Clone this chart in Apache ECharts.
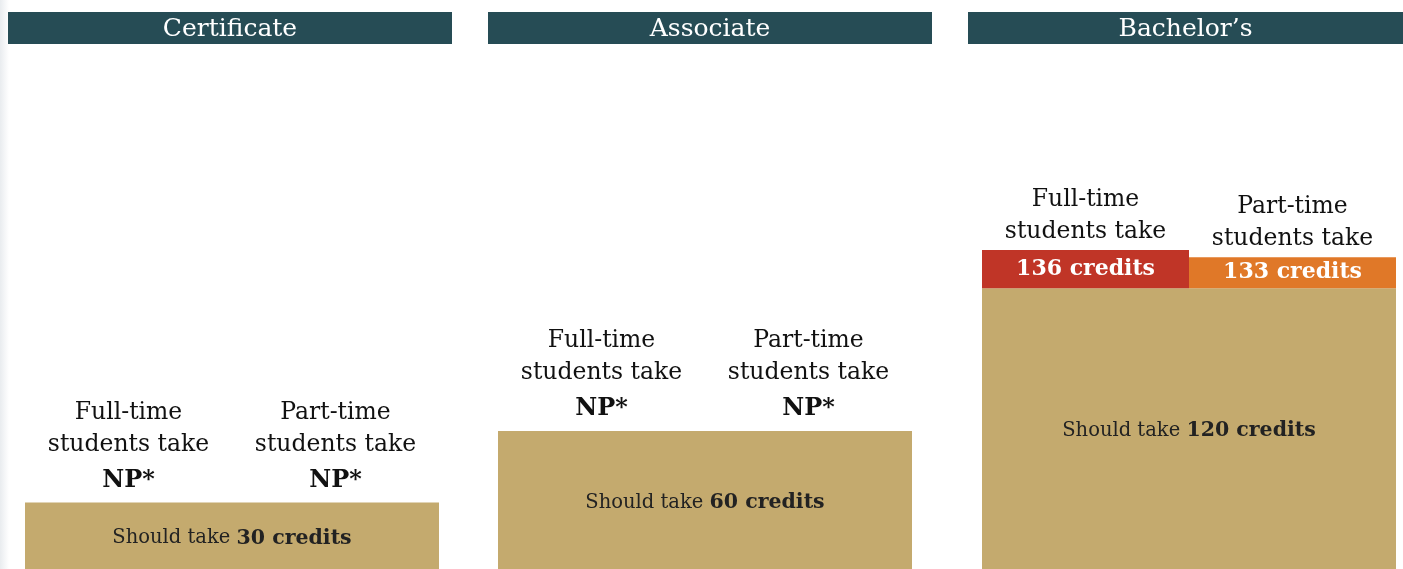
<!DOCTYPE html>
<html>
<head>
<meta charset="utf-8">
<script src="https://cdn.jsdelivr.net/npm/echarts@6/dist/echarts.min.js"></script>
<style>
  html, body { margin: 0; padding: 0; background: #fff; }
  #main { width: 1403px; height: 569px; }
</style>
</head>
<body>
<div id="main"></div>
<script>
// data
let degrees = ["Certificate", "Associate", "Bachelor\u2019s"];
let students = ["Full-time", "Part-time"];
let shouldTake = [30, 60, 120];          // credits needed
let fullTimeTake = [null, null, 136];    // null = NP (not provided)
let partTimeTake = [null, null, 133];

let serif = "DejaVu Serif";
let tan = "#c4aa6e";
let teal = "#264c55";
let overColors = ["#c03527", "#e07828"];

let gridLeft = [25, 498, 982];
let gridW = 414;
let headLeft = [8, 488, 968];
let headW = [444, 444, 435];

var myChart = echarts.init(document.getElementById('main'));

let grids = [], xAxes = [], yAxes = [], series = [], graphics = [];

// faint shadow strip on the left edge
graphics.push({
    type: 'rect', left: 0, top: 0, z: -1,
    shape: {width: 9, height: 569},
    style: {fill: new echarts.graphic.LinearGradient(0, 0, 1, 0, [
        {offset: 0, color: '#e9ecef'}, {offset: 1, color: '#ffffff'}])}
});

for (let i = 0; i < degrees.length; i++) {
    // grid runs a little below the window, the bottom of the bars is cut off
    grids.push({left: gridLeft[i], width: gridW, top: 50, height: 524, outerBoundsMode: 'none'});
    xAxes.push({type: 'category', gridIndex: i, data: students, show: false});
    yAxes.push({type: 'value', gridIndex: i, min: 0, max: 220, show: false});

    // header bar
    graphics.push({
        type: 'group', left: headLeft[i], top: 12,
        children: [
            {type: 'rect', shape: {width: headW[i], height: 32}, style: {fill: teal}},
            {type: 'text', x: headW[i] / 2, y: 17, style: {
                text: degrees[i], fill: '#fff', font: '25px "' + serif + '"',
                align: 'center', verticalAlign: 'middle'}}
        ]
    });

    let totals = [fullTimeTake[i], partTimeTake[i]];
    let np = totals[0] == null;

    // base: credits they should take
    series.push({
        type: 'bar', name: 'should', xAxisIndex: i, yAxisIndex: i, stack: 's' + i,
        barCategoryGap: '0%', silent: true, z: 2,
        itemStyle: {color: tan},
        data: [shouldTake[i], shouldTake[i]]
    });

    // extra credits actually taken
    series.push({
        type: 'bar', name: 'extra', xAxisIndex: i, yAxisIndex: i, stack: 's' + i,
        barCategoryGap: '0%', silent: true, z: 2,
        data: totals.map((t, j) => ({
            value: t == null ? 0 : t - shouldTake[i],
            itemStyle: {color: overColors[j]},
            label: {
                show: t != null, position: 'inside',
                formatter: t + ' credits',
                color: '#fff', fontFamily: serif, fontWeight: 'bold', fontSize: 22
            }
        }))
    });

    // caption on top of the stack + label of the base block
    series.push({
        type: 'bar', name: 'caption', xAxisIndex: i, yAxisIndex: i, stack: 's' + i,
        barCategoryGap: '0%', silent: true, z: 5,
        itemStyle: {color: 'rgba(0,0,0,0)'},
        data: students.map(s => ({
            value: 0,
            label: {
                show: true, position: 'top', distance: 2,
                formatter: '{a|' + s + '}\n{a|students take}' + (np ? '\n{b|NP*}' : ''),
                rich: {
                    a: {fontFamily: serif, fontSize: 23.5, lineHeight: 32, color: '#111', align: 'center'},
                    b: {fontFamily: serif, fontSize: 24, fontWeight: 'bold', lineHeight: 40, color: '#111', align: 'center'}
                }
            }
        })),
        markArea: {
            silent: true, z: 10,
            itemStyle: {color: 'rgba(0,0,0,0)'},
            label: {
                show: true, position: 'inside',
                formatter: '{n|Should take }{b|' + shouldTake[i] + ' credits}',
                rich: {
                    n: {fontFamily: serif, fontSize: 19.5, color: '#222'},
                    b: {fontFamily: serif, fontSize: 20.5, fontWeight: 'bold', color: '#222'}
                }
            },
            data: [[{yAxis: 0}, {yAxis: shouldTake[i]}]]
        }
    });
}

var option = {
    animation: false,
    backgroundColor: '#fff',
    grid: grids,
    xAxis: xAxes,
    yAxis: yAxes,
    series: series,
    graphic: graphics
};
myChart.setOption(option);
</script>
</body>
</html>
